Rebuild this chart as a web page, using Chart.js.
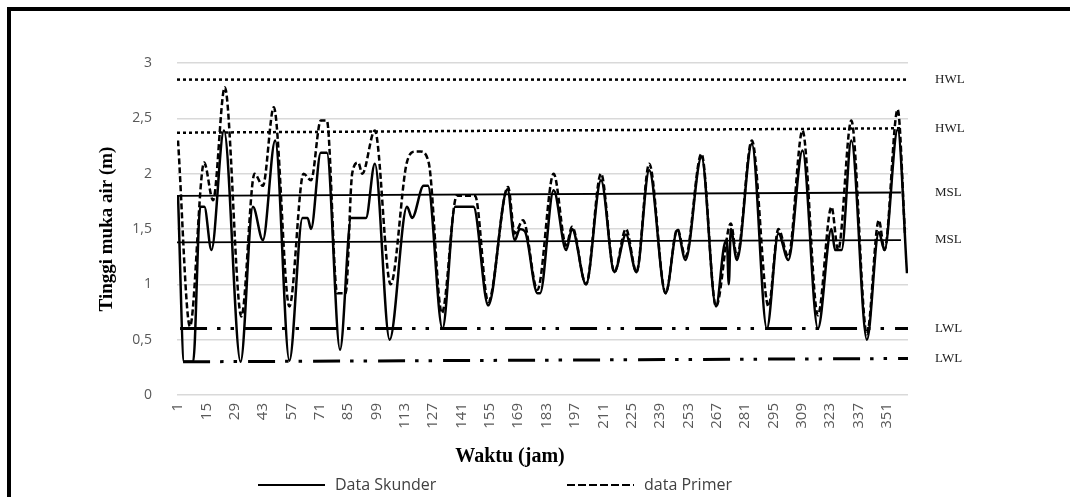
<!DOCTYPE html>
<html>
<head>
<meta charset="utf-8">
<script src="https://cdn.jsdelivr.net/npm/chart.js@4.4.1/dist/chart.umd.min.js"></script>
<style>
    html, body { margin: 0; padding: 0; background: #fff; overflow: hidden; }
    #wrap { position: relative; width: 1070px; height: 497px; }
    #frame { position: absolute; left: 7px; top: 7px; width: 1200px; height: 700px; border-top: 4px solid #000; border-left: 4px solid #000; }
    canvas { position: absolute; left: 0; top: 0; }
</style>
</head>
<body>
<div id="wrap">
    <div id="frame"></div>
    <canvas id="tideChart" width="1070" height="497"></canvas>
</div>
<script>
// data (jam -> tinggi muka air, m)
const skunderJam = [1, 4, 8.5, 12, 14, 17.5, 23.7, 31.9, 38, 42.9, 49, 56, 62.5, 65, 66.7, 71.5, 74.5, 81, 86.5, 93.8,
    98.2, 105.5, 114.1, 116.6, 122.3, 124.4, 131.6, 137.9, 146.9, 154.2, 163.7, 167.3, 169.8, 172.3, 178.5, 179.8,
    186.5, 192.7, 195.6, 202.5, 209.9, 216.5, 222.2, 227.4, 233.7, 241.8, 247.6, 251.6, 259.5, 266.7, 270.6, 272,
    273, 274, 277, 284.4, 291.8, 297.5, 302.4, 309.4, 317, 323.7, 325.5, 328.7, 333.5, 341.2, 347.1, 349.9, 356.4, 361];
const skunderTinggi = [1.80, 0.30, 0.30, 1.70, 1.70, 1.31, 2.39, 0.30, 1.70, 1.40, 2.30, 0.31, 1.60, 1.60, 1.50, 2.19, 2.19, 0.41, 1.60, 1.60,
    2.09, 0.50, 1.70, 1.60, 1.89, 1.89, 0.60, 1.70, 1.70, 0.81, 1.86, 1.40, 1.50, 1.48, 0.92, 0.92,
    1.85, 1.31, 1.50, 1.00, 1.94, 1.11, 1.45, 1.11, 2.03, 0.92, 1.49, 1.22, 2.15, 0.80, 1.34, 1.40,
    1.00, 1.50, 1.22, 2.27, 0.60, 1.46, 1.22, 2.21, 0.60, 1.50, 1.31, 1.31, 2.30, 0.50, 1.47, 1.31, 2.40, 1.10];

const primerJam = [1, 6.9, 13.9, 18.3, 24.1, 32.3, 38.8, 42.9, 48.3, 56, 63, 66.7, 71.5, 74.5, 79.6, 83.8, 87, 90, 92,
    98.2, 106, 114, 118.2, 120.7, 124.8, 131.3, 138.7, 147.7, 154.2, 164, 167.3, 171.4, 178.5,
    186.5, 192.7, 195.6, 202.5, 209.9, 216.5, 222.2, 227.4, 233.7, 241.8, 247.6, 251.6, 259.5, 266.7,
    274, 277, 284.4, 292.6, 297.5, 302.4, 309.4, 317, 323.7, 327, 333.5, 341.2, 347.1, 349.9, 356.4, 360];
const primerTinggi = [2.30, 0.62, 2.10, 1.76, 2.78, 0.71, 2.00, 1.89, 2.60, 0.80, 2.00, 1.94, 2.48, 2.48, 0.92, 0.92, 2.00, 2.10, 2.00,
    2.39, 1.00, 2.10, 2.20, 2.20, 2.10, 0.74, 1.80, 1.80, 0.84, 1.88, 1.46, 1.58, 0.95,
    2.00, 1.35, 1.52, 1.00, 2.00, 1.11, 1.50, 1.11, 2.09, 0.92, 1.50, 1.25, 2.18, 0.80,
    1.55, 1.25, 2.30, 0.80, 1.50, 1.25, 2.39, 0.72, 1.70, 1.31, 2.48, 0.55, 1.58, 1.31, 2.58, 1.46];

// reference levels (start/end of each line)
const refNama = ['HWL', 'HWL', 'MSL', 'MSL', 'LWL', 'LWL'];
const refJamAwal = [0.5, 0.5, 0.5, 0.5, 2, 3.5];
const refJamAkhir = [361, 359, 358, 358, 361.5, 361.5];
const refAwal = [2.85, 2.37, 1.80, 1.38, 0.60, 0.30];
const refAkhir = [2.85, 2.41, 1.83, 1.40, 0.60, 0.33];

const xTicks = [1, 15, 29, 43, 57, 71, 85, 99, 113, 127, 141, 155, 169, 183, 197, 211, 225, 239, 253, 267, 281, 295, 309, 323, 337, 351];

const refStyle = {
    HWL: { borderDash: [3, 3], borderWidth: 2.5 },
    MSL: { borderDash: [], borderWidth: 1.8 },
    LWL: { borderDash: [27, 10, 3.5, 10, 3.5, 11], borderWidth: 3 }
};

const toPoints = (xs, ys) => xs.map((x, i) => ({ x, y: ys[i] }));

const datasets = [
    { label: 'Data Skunder', data: toPoints(skunderJam, skunderTinggi), borderColor: '#000', borderWidth: 2.5,
      borderDash: [], pointRadius: 0, cubicInterpolationMode: 'monotone', fill: false },
    { label: 'data Primer', data: toPoints(primerJam, primerTinggi), borderColor: '#000', borderWidth: 2.5,
      borderDash: [6, 3], pointRadius: 0, cubicInterpolationMode: 'monotone', fill: false }
];
refNama.forEach((nama, i) => {
    datasets.push({
        label: nama, sideLabel: nama,
        data: [{ x: refJamAwal[i], y: refAwal[i] }, { x: refJamAkhir[i], y: refAkhir[i] }],
        borderColor: '#000', pointRadius: 0, fill: false,
        borderDash: refStyle[nama].borderDash, borderWidth: refStyle[nama].borderWidth
    });
});

// level names on the right, x title and bottom legend
const extraText = {
    id: 'extraText',
    afterDatasetsDraw(chart) {
        const ctx = chart.ctx;
        const area = chart.chartArea;
        ctx.save();
        ctx.font = '13px "Liberation Serif"';
        ctx.fillStyle = '#222';
        ctx.textBaseline = 'middle';
        ctx.textAlign = 'left';
        chart.data.datasets.forEach((ds, i) => {
            if (!ds.sideLabel) return;
            const pts = chart.getDatasetMeta(i).data;
            ctx.fillText(ds.sideLabel, area.right + 27, pts[pts.length - 1].y);
        });

        ctx.font = 'bold 20px "Liberation Serif"';
        ctx.fillStyle = '#000';
        ctx.textAlign = 'center';
        ctx.fillText('Waktu (jam)', 510, 457);

        const legendY = 485;
        const items = [[0, 258], [1, 567]];
        ctx.font = '16px "Open Sans"';
        ctx.fillStyle = '#404040';
        ctx.textAlign = 'left';
        items.forEach(([idx, x]) => {
            const ds = chart.data.datasets[idx];
            ctx.strokeStyle = '#000';
            ctx.lineWidth = 2.2;
            ctx.setLineDash(idx === 1 ? [8, 3] : []);
            ctx.beginPath();
            ctx.moveTo(x, legendY);
            ctx.lineTo(x + 67, legendY);
            ctx.stroke();
            ctx.setLineDash([]);
            ctx.fillText(ds.label, x + 77, legendY);
        });
        ctx.restore();
    }
};

new Chart(document.getElementById('tideChart'), {
    type: 'line',
    data: { datasets },
    options: {
        responsive: false,
        animation: false,
        layout: { padding: { left: 95, right: 162, top: 63, bottom: 28 } },
        plugins: { legend: { display: false }, tooltip: { enabled: false } },
        scales: {
            x: {
                type: 'linear', min: 0.5, max: 361.5,
                afterBuildTicks: (scale) => { scale.ticks = xTicks.map(v => ({ value: v })); },
                afterFit: (scale) => { scale.height = 74; },
                grid: { display: false, drawTicks: false },
                border: { display: false },
                ticks: { autoSkip: false, minRotation: 90, maxRotation: 90, padding: 8,
                         color: '#595959', font: { family: 'Open Sans', size: 15 } }
            },
            y: {
                min: 0, max: 3,
                afterFit: (scale) => { scale.width = 82; },
                grid: { color: '#d9d9d9', lineWidth: 1.5, drawTicks: false },
                border: { display: false },
                ticks: { stepSize: 0.5, padding: 25, color: '#595959', font: { family: 'Open Sans', size: 14 },
                         callback: (v) => String(v).replace('.', ',') },
                title: { display: true, text: 'Tinggi muka air (m)', color: '#000', padding: { top: 1, bottom: 0 },
                         font: { family: 'Liberation Serif', size: 19, weight: 'bold' } }
            }
        }
    },
    plugins: [extraText]
});
</script>
</body>
</html>
